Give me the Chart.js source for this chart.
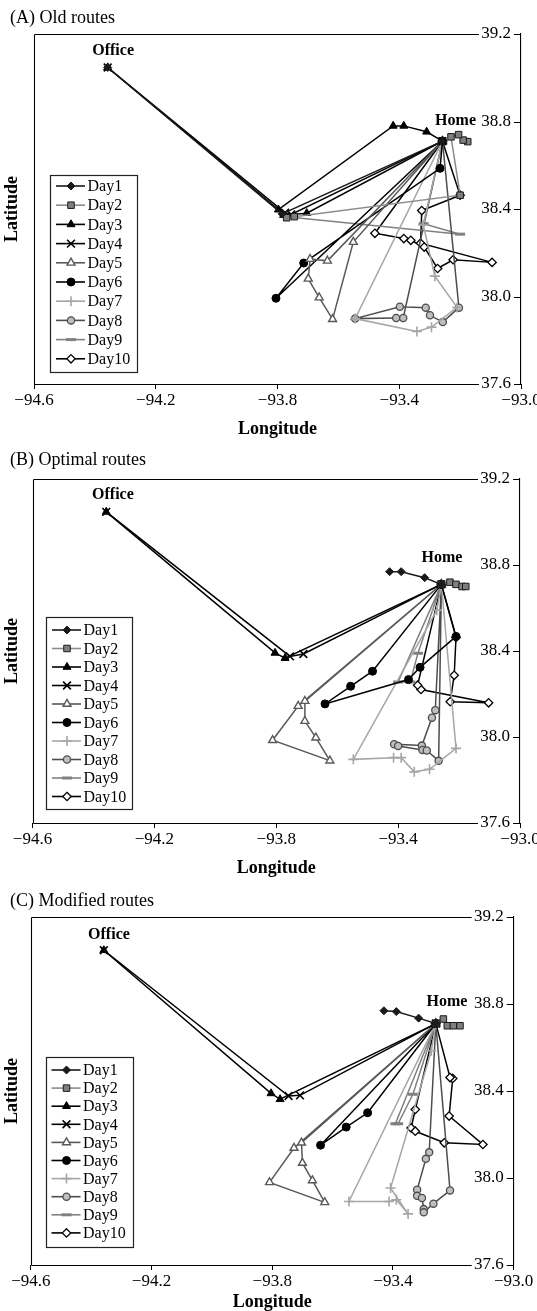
<!DOCTYPE html>
<html>
<head>
<meta charset="utf-8">
<script src="https://cdn.jsdelivr.net/npm/chart.js@4.4.1/dist/chart.umd.min.js"></script>
<style>
html,body{margin:0;padding:0;background:#fff;}
#wrap{position:relative;width:537px;height:1311px;overflow:hidden;background:#fff;}
canvas{position:absolute;left:0;}
.ptitle{position:absolute;left:10px;font-family:'Liberation Serif','Times New Roman',serif;font-size:18px;color:#000;line-height:18px;white-space:nowrap;}
</style>
</head>
<body>
<div id="wrap">
  <canvas id="cA" width="537" height="445" style="top:0px"></canvas>
  <canvas id="cB" width="537" height="440" style="top:445px"></canvas>
  <canvas id="cC" width="537" height="426" style="top:885px"></canvas>
  <div class="ptitle" style="top:8px">(A) Old routes</div>
  <div class="ptitle" style="top:450px">(B) Optimal routes</div>
  <div class="ptitle" style="top:891px">(C) Modified routes</div>
</div>
<script>
// ---------- data ----------
const HOME = [-93.258, 38.71];
const OFFICE = [-94.358, 39.047];
const dayNames = ['Day1','Day2','Day3','Day4','Day5','Day6','Day7','Day8','Day9','Day10'];
const lonTicks = [-94.6, -94.2, -93.8, -93.4, -93.0];
const latTicks = [37.6, 38.0, 38.4, 38.8, 39.2];
const placeNames = ['Office', 'Home'];
const labelLonA = [-94.34, -93.215];
const labelLatA = [39.124, 38.805];
const labelLonB = [-94.336, -93.256];
const labelLatB = [39.128, 38.831];
const labelLonC = [-94.341, -93.221];
const labelLatC = [39.118, 38.811];

// (A) Old routes  [longitude, latitude]
const oldDay1 = [HOME, [-93.785, 38.378], OFFICE];
const oldDay2 = [[-93.175, 38.708], [-93.19, 38.715], [-93.205, 38.74], [-93.23, 38.73], [-93.2, 38.463], [-93.745, 38.365], [-93.77, 38.36]];
const oldDay3 = [OFFICE, [-93.797, 38.397], [-93.42, 38.78], [-93.385, 38.78], [-93.31, 38.753], HOME, [-93.704, 38.381], [-93.78, 38.372]];
const oldDay4 = [OFFICE, [-93.775, 38.383], [-93.755, 38.375], HOME];
const oldDay5 = [HOME, [-93.636, 38.163], [-93.693, 38.171], [-93.699, 38.081], [-93.663, 37.995], [-93.619, 37.896], [-93.551, 38.249], HOME];
const oldDay6 = [HOME, [-93.266, 38.586], [-93.714, 38.153], [-93.805, 37.992], HOME];
const oldDay7 = [HOME, [-93.321, 38.327], [-93.283, 38.093], [-93.21, 37.95], [-93.294, 37.86], [-93.342, 37.84], [-93.545, 37.899], HOME];
const oldDay8 = [HOME, [-93.204, 37.949], [-93.257, 37.883], [-93.299, 37.914], [-93.313, 37.949], [-93.398, 37.953], [-93.545, 37.899], [-93.41, 37.902], [-93.387, 37.902], HOME];
const oldDay9 = [HOME, [-93.32, 38.333], [-93.2, 38.285], [-93.755, 38.362]];
const oldDay10 = [HOME, [-93.2, 38.463], [-93.326, 38.393], [-93.33, 38.244], [-93.095, 38.156], [-93.223, 38.168], [-93.274, 38.128], [-93.318, 38.226], [-93.362, 38.257], [-93.385, 38.265], [-93.48, 38.289], HOME];

// (B) Optimal routes
const optDay1 = [HOME, [-93.313, 38.741], [-93.39, 38.769], [-93.428, 38.769]];
const optDay2 = [HOME, [-93.23, 38.72], [-93.21, 38.71], [-93.19, 38.70], [-93.178, 38.70]];
const optDay3 = [HOME, [-93.771, 38.367], [-93.804, 38.391], OFFICE];
const optDay4 = [HOME, [-93.711, 38.386], [-93.755, 38.375], OFFICE];
const optDay5 = [HOME, [-93.706, 38.167], [-93.706, 38.074], [-93.67, 37.997], [-93.624, 37.89], [-93.812, 37.985], [-93.728, 38.144], HOME];
const optDay6 = [HOME, [-93.484, 38.306], [-93.556, 38.236], [-93.64, 38.154], [-93.366, 38.267], [-93.328, 38.324], [-93.21, 38.468], HOME];
const optDay7 = [HOME, [-93.273, 38.59], [-93.547, 37.896], [-93.415, 37.904], [-93.39, 37.904], [-93.347, 37.838], [-93.297, 37.85], [-93.21, 37.947], HOME];
const optDay8 = [HOME, [-93.278, 38.125], [-93.289, 38.09], [-93.322, 37.96], [-93.413, 37.966], [-93.40, 37.958], [-93.32, 37.94], [-93.306, 37.937], [-93.267, 37.889], HOME];
const optDay9 = [HOME, [-93.335, 38.39], [-93.36, 38.256], [-93.40, 38.256], HOME];
const optDay10 = [HOME, [-93.21, 38.463], [-93.216, 38.287], [-93.229, 38.164], [-93.103, 38.159], [-93.325, 38.221], [-93.336, 38.241], HOME];

// (C) Modified routes
const modDay1 = [HOME, [-93.315, 38.735], [-93.389, 38.765], [-93.43, 38.769]];
const modDay2 = [HOME, [-93.233, 38.731], [-93.22, 38.70], [-93.2, 38.70], [-93.178, 38.70]];
const modDay3 = [HOME, [-93.774, 38.362], [-93.804, 38.389], OFFICE];
const modDay4 = [HOME, [-93.708, 38.38], [-93.746, 38.377], OFFICE];
const modDay5 = [HOME, [-93.703, 38.162], [-93.70, 38.069], [-93.667, 37.989], [-93.626, 37.888], [-93.809, 37.98], [-93.728, 38.138], HOME];
const modDay6 = [HOME, [-93.484, 38.30], [-93.555, 38.234], [-93.64, 38.151], HOME];
const modDay7 = [HOME, [-93.273, 38.585], [-93.408, 37.954], [-93.35, 37.835], [-93.389, 37.90], [-93.413, 37.892], [-93.546, 37.892], HOME];
const modDay8 = [HOME, [-93.28, 38.118], [-93.291, 38.088], [-93.32, 37.946], [-93.32, 37.918], [-93.304, 37.908], [-93.298, 37.857], [-93.298, 37.842], [-93.266, 37.882], [-93.211, 37.943], HOME];
const modDay9 = [HOME, [-93.334, 38.385], [-93.383, 38.249], [-93.392, 38.249], HOME];
const modDay10 = [HOME, [-93.326, 38.315], [-93.34, 38.23], [-93.326, 38.215], [-93.23, 38.162], [-93.102, 38.154], [-93.214, 38.285], [-93.202, 38.458], [-93.211, 38.462], HOME];

// ---------- styles ----------
const SERIF = "'Liberation Serif', 'Times New Roman', serif";
const dayStyles = [
  {line:'#1a1a1a', pt:'rectRot',  fill:'#1a1a1a', edge:'#1a1a1a', r:4,   bw:1},
  {line:'#8c8c8c', pt:'rect',     fill:'#7f7f7f', edge:'#1a1a1a', r:4.6, bw:1},
  {line:'#000000', pt:'triangle', fill:'#000000', edge:'#000000', r:4.6, bw:1},
  {line:'#000000', pt:'crossRot', fill:'#000000', edge:'#000000', r:5.5, bw:1.6},
  {line:'#595959', pt:'triangle', fill:'#ffffff', edge:'#595959', r:4.6, bw:1.4},
  {line:'#000000', pt:'circle',   fill:'#000000', edge:'#000000', r:4,   bw:1},
  {line:'#a6a6a6', pt:'cross',    fill:'#a6a6a6', edge:'#a6a6a6', r:5,   bw:1.6},
  {line:'#4d4d4d', pt:'circle',   fill:'#bfbfbf', edge:'#4d4d4d', r:3.6, bw:1.3},
  {line:'#808080', pt:'line',     fill:'#808080', edge:'#808080', r:5,   bw:3},
  {line:'#000000', pt:'rectRot',  fill:'#ffffff', edge:'#000000', r:4.2, bw:1.3}
];

const PANELS = [
  {key:'A', canvas:'cA', routes:[oldDay1,oldDay2,oldDay3,oldDay4,oldDay5,oldDay6,oldDay7,oldDay8,oldDay9,oldDay10],
   H:445, left:34, right:521, top:34, bottom:384, xTitlePad:7, labelLon:labelLonA, labelLat:labelLatA,
   legend:{x:50, y:175, w:87, h:197, row1:186, step:19.2}},
  {key:'B', canvas:'cB', routes:[optDay1,optDay2,optDay3,optDay4,optDay5,optDay6,optDay7,optDay8,optDay9,optDay10],
   H:440, left:32.5, right:520, top:34, bottom:378, xTitlePad:8, labelLon:labelLonB, labelLat:labelLatB,
   legend:{x:46, y:172, w:86, h:192, row1:185, step:18.5}},
  {key:'C', canvas:'cC', routes:[modDay1,modDay2,modDay3,modDay4,modDay5,modDay6,modDay7,modDay8,modDay9,modDay10],
   H:426, left:30.8, right:513.7, top:32, bottom:380, xTitlePad:0, labelLon:labelLonC, labelLat:labelLatC,
   legend:{x:45.5, y:172.4, w:86.5, h:190, row1:185, step:18.1}}
];

function fmt(v){ return (v < 0 ? '\u2212' : '') + Math.abs(v).toFixed(1); }

function drawMark(ctx, st, x, y){
  const r = st.r;
  ctx.save();
  ctx.fillStyle = st.fill; ctx.strokeStyle = st.edge; ctx.lineWidth = st.bw;
  ctx.beginPath();
  let filled = true;
  switch(st.pt){
    case 'circle': ctx.arc(x, y, r, 0, Math.PI*2); ctx.closePath(); break;
    case 'rect': { const s = r*Math.SQRT1_2; ctx.rect(x-s, y-s, 2*s, 2*s); break; }
    case 'rectRot': ctx.moveTo(x, y-r); ctx.lineTo(x+r, y); ctx.lineTo(x, y+r); ctx.lineTo(x-r, y); ctx.closePath(); break;
    case 'triangle': {
      let a = 0;
      ctx.moveTo(x + Math.sin(a)*r, y - Math.cos(a)*r); a += 2*Math.PI/3;
      ctx.lineTo(x + Math.sin(a)*r, y - Math.cos(a)*r); a += 2*Math.PI/3;
      ctx.lineTo(x + Math.sin(a)*r, y - Math.cos(a)*r); ctx.closePath(); break;
    }
    case 'cross': filled = false; ctx.moveTo(x, y-r); ctx.lineTo(x, y+r); ctx.moveTo(x-r, y); ctx.lineTo(x+r, y); break;
    case 'crossRot': { filled = false; const d = r*Math.SQRT1_2; ctx.moveTo(x-d, y-d); ctx.lineTo(x+d, y+d); ctx.moveTo(x+d, y-d); ctx.lineTo(x-d, y+d); break; }
    case 'line': filled = false; ctx.moveTo(x-r, y); ctx.lineTo(x+r, y); break;
  }
  if (filled) ctx.fill();
  ctx.stroke();
  ctx.restore();
}

function decoPlugin(P){
  return {
    id: 'deco' + P.key,
    afterDraw(chart){
      const ctx = chart.ctx, a = chart.chartArea, xs = chart.scales.x, ys = chart.scales.y;
      ctx.save();
      ctx.strokeStyle = '#000'; ctx.lineWidth = 1.1;
      ctx.beginPath();
      const gapEnd = a.right - 42;
      const ty = Math.round(a.top) + 0.5, by = Math.round(a.bottom) + 0.5, lx = Math.round(a.left) + 0.5;
      ctx.moveTo(lx, ty); ctx.lineTo(gapEnd, ty);
      ctx.moveTo(lx, by); ctx.lineTo(gapEnd, by);
      ctx.moveTo(lx, ty); ctx.lineTo(lx, by);
      ys.ticks.forEach(t => {
        const y = Math.round(ys.getPixelForValue(t.value)) + 0.5;
        ctx.moveTo(a.right - 7, y); ctx.lineTo(a.right, y);
      });
      ctx.stroke();

      // place names
      ctx.fillStyle = '#000';
      ctx.font = 'bold 16px ' + SERIF;
      ctx.textAlign = 'center'; ctx.textBaseline = 'middle';
      placeNames.forEach((n, i) => {
        ctx.fillText(n, xs.getPixelForValue(P.labelLon[i]), ys.getPixelForValue(P.labelLat[i]));
      });

      // legend
      const L = P.legend;
      ctx.fillStyle = '#fff';
      ctx.fillRect(L.x, L.y, L.w, L.h);
      ctx.strokeStyle = '#222'; ctx.lineWidth = 1.2;
      ctx.strokeRect(Math.round(L.x) + 0.5, Math.round(L.y) + 0.5, Math.round(L.w), Math.round(L.h));
      ctx.font = '16px ' + SERIF;
      ctx.textAlign = 'left'; ctx.textBaseline = 'middle';
      chart.data.datasets.forEach((ds, i) => {
        const st = dayStyles[i];
        const y = L.row1 + i * L.step;
        ctx.strokeStyle = st.line; ctx.lineWidth = 1.6;
        ctx.beginPath(); ctx.moveTo(L.x + 6, y); ctx.lineTo(L.x + 35, y); ctx.stroke();
        drawMark(ctx, st, L.x + 21, y);
        ctx.fillStyle = '#000';
        ctx.fillText(ds.label, L.x + 37.5, y + 1);
      });
      ctx.restore();
    }
  };
}

function buildPanel(P){
  const datasets = P.routes.map((pts, i) => {
    const st = dayStyles[i];
    return {
      label: dayNames[i],
      data: pts.map(p => ({x: p[0], y: p[1]})),
      showLine: true,
      tension: 0,
      fill: false,
      borderColor: st.line,
      borderWidth: 1.5,
      pointStyle: st.pt,
      pointRadius: st.r,
      pointHoverRadius: st.r,
      pointBackgroundColor: st.fill,
      pointBorderColor: st.edge,
      pointBorderWidth: st.bw
    };
  });
  new Chart(document.getElementById(P.canvas), {
    type: 'scatter',
    data: {datasets},
    options: {
      responsive: false,
      animation: false,
      devicePixelRatio: 1,
      events: [],
      layout: {padding: {top: P.top, left: 0, right: 0, bottom: 0}},
      plugins: {legend: {display: false}, tooltip: {enabled: false}, title: {display: false}},
      scales: {
        x: {
          type: 'linear', position: 'bottom', min: -94.6, max: -93.0,
          afterBuildTicks: s => { s.ticks = lonTicks.map(v => ({value: v})); },
          ticks: {callback: v => fmt(v), color: '#000', font: {family: SERIF, size: 17}, padding: 1, maxRotation: 0, autoSkip: false},
          grid: {display: true, drawOnChartArea: false, drawTicks: true, tickLength: 5, color: '#000', lineWidth: 1},
          border: {display: false},
          title: {display: true, text: 'Longitude', color: '#000', font: {family: SERIF, size: 18, weight: 'bold', lineHeight: 1}, padding: {top: 0, bottom: P.xTitlePad}},
          afterFit: s => { s.height = P.H - P.bottom; s.paddingLeft = 0; s.paddingRight = 0; }
        },
        y: {
          type: 'linear', position: 'right', min: 37.6, max: 39.2,
          afterBuildTicks: s => { s.ticks = latTicks.map(v => ({value: v})); },
          ticks: {mirror: true, padding: -10, callback: v => fmt(v), color: '#000', font: {family: SERIF, size: 17}},
          grid: {display: false},
          border: {display: true, color: '#000', width: 1.1},
          afterFit: s => { s.width = 537 - P.right; s.paddingTop = 0; s.paddingBottom = 0; }
        },
        lat: {
          type: 'linear', position: 'left', display: true,
          grid: {display: false}, border: {display: false}, ticks: {display: false},
          title: {display: true, text: 'Latitude', color: '#000', font: {family: SERIF, size: 18, weight: 'bold'}, padding: {top: 2, bottom: 0}},
          afterFit: s => { s.width = P.left; s.paddingTop = 0; s.paddingBottom = 0; }
        }
      }
    },
    plugins: [decoPlugin(P)]
  });
}

PANELS.forEach(buildPanel);
</script>
</body>
</html>
